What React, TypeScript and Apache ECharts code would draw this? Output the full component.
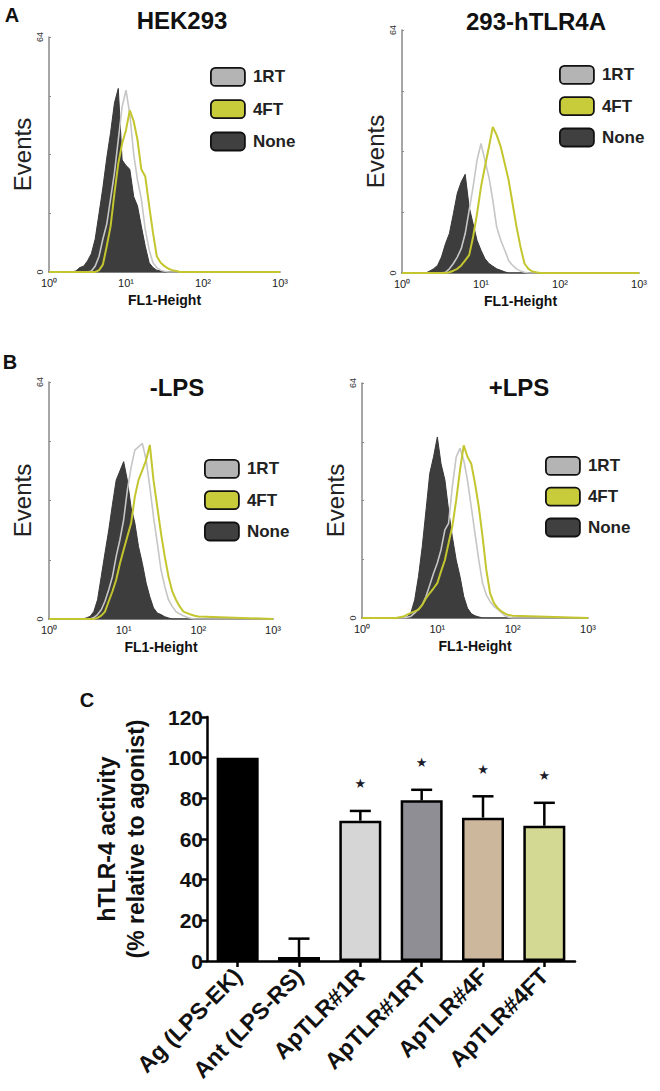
import React, { useEffect, useRef } from "react";
import * as echarts from "echarts";

// FL1-Height bin positions (log spaced)
const FL1 = [1, 1.58, 1.78, 2.0, 2.24, 2.51, 2.82, 3.16, 3.55, 3.98, 4.47, 5.01, 5.62, 6.31, 7.08, 7.94, 8.91, 10, 11.2, 12.6, 14.1, 15.8, 17.8, 20.0, 22.4, 25.1, 28.2, 31.6, 35.5, 39.8, 44.7, 50.1, 56.2, 63.1, 70.8, 79.4, 89.1, 100, 1000];

// Panel A, HEK293
const hekNone = [0, 0, 0, 0, 0.3, 1.2, 1.6, 3, 5, 9, 16, 23, 31, 38, 46, 50, 30.5, 29, 28, 20.5, 18, 12.5, 7, 2.5, 1.2, 0.5, 0.3, 0, 0, 0, 0, 0, 0, 0, 0, 0, 0, 0, 0];
const hek1RT = [0, 0, 0, 0, 0, 0, 0, 0, 0.3, 1.6, 4.3, 9, 13, 20, 27, 36, 45, 49.5, 43, 32, 25, 20, 11.5, 6, 2.5, 1.2, 0.5, 0.2, 0, 0, 0, 0, 0, 0, 0, 0, 0, 0, 0];
const hek4FT = [0, 0, 0, 0, 0, 0, 0, 0, 0, 0, 0.5, 2, 7, 12.5, 21.5, 29.5, 35, 38.7, 44, 41, 36, 28, 26, 18, 10.7, 4.3, 2.5, 1.6, 0.9, 0.5, 0.3, 0, 0, 0, 0, 0, 0, 0, 0];
// Panel A, 293-hTLR4A
const tlrNone = [0, 0, 0, 0, 0.5, 1.1, 2, 4.2, 7.7, 10.4, 15.6, 21, 24, 26, 17.4, 13, 8.6, 6, 3.8, 2.5, 1.8, 1.1, 0.7, 0.3, 0, 0, 0, 0, 0, 0, 0, 0, 0, 0, 0, 0, 0, 0, 0];
const tlr1RT = [0, 0, 0, 0, 0, 0, 0, 0, 0.2, 1.1, 2.5, 4.2, 6.4, 10.4, 16.5, 22.7, 29.7, 34.1, 29.7, 25.3, 19.2, 12.1, 8.6, 6, 3.3, 2, 1.1, 0.5, 0.2, 0, 0, 0, 0, 0, 0, 0, 0, 0, 0];
const tlr4FT = [0, 0, 0, 0, 0, 0, 0, 0, 0, 0.2, 0.6, 1.1, 2, 3.3, 4.7, 9.5, 15.6, 22.7, 28, 33.2, 38.5, 36.3, 33.2, 28.8, 24.4, 18.3, 12.1, 6.9, 2.5, 1.1, 0.4, 0.2, 0, 0, 0, 0, 0, 0, 0];
// Panel B, -LPS
const noLpsNone = [0, 0, 0, 0, 0, 0, 0, 0.3, 0.7, 2, 5.2, 11.5, 17.8, 24, 31, 37.5, 40, 42.5, 37.5, 30, 26, 19.6, 15, 9.7, 6, 3, 1.6, 1.2, 0.6, 0.3, 0, 0, 0, 0, 0, 0, 0, 0, 0];
const noLps1RT = [0, 0, 0, 0, 0, 0, 0, 0, 0, 0.4, 1.2, 2.5, 4.8, 7.9, 11.5, 16.9, 21.4, 26.8, 34.8, 41, 45.6, 46.5, 47.4, 43, 35.7, 27.6, 20.5, 13.3, 8.8, 5.2, 3.4, 2, 1.4, 0.9, 0.5, 0.2, 0, 0, 0];
const noLps4FT = [0, 0, 0, 0, 0, 0, 0, 0, 0, 0, 0.3, 0.9, 2, 4.8, 7.5, 10.6, 15, 18.7, 22.3, 25.9, 33, 37.5, 40.2, 42.9, 47, 37.5, 30.3, 23.2, 16.9, 11.5, 7.5, 5.2, 3.4, 2, 1.6, 1.2, 0.9, 0.7, 0];
// Panel B, +LPS
const lpsNone = [0, 0, 0, 0, 0, 0, 0, 0, 0, 0.3, 1.5, 5, 11.3, 19.5, 29.4, 39.4, 43.9, 49.3, 42, 37.6, 29.4, 22.2, 15.8, 11.3, 5.9, 2.7, 1.2, 0.6, 0.3, 0, 0, 0, 0, 0, 0, 0, 0, 0, 0];
const lps1RT = [0, 0, 0, 0, 0, 0, 0, 0, 0, 0.2, 0.5, 1.4, 2.4, 3.6, 5.9, 9, 12.2, 15, 18.6, 24, 25.8, 35.7, 43.9, 46.2, 43, 37.6, 30.3, 23, 15.8, 9.5, 6.3, 4.5, 3.2, 2.4, 1.5, 0.6, 0.2, 0, 0];
const lps4FT = [0, 0, 0, 0, 0, 0, 0, 0.2, 0.4, 0.9, 1.4, 1.8, 2.3, 3.6, 5.4, 6.8, 8.1, 9.5, 12.7, 15.8, 20.4, 24.9, 32.1, 40.3, 47, 43.9, 42, 36.7, 30.3, 22.2, 13.1, 6.8, 4.1, 2.7, 1.8, 1.2, 0.8, 0.6, 0];

const decadeLabels = ["10⁰", "10¹", "10²", "10³"];
const eventsTicks = [0, 64];
const legendNames = ["1RT", "4FT", "None"];

// Panel C
const categories = ["Ag (LPS-EK)", "Ant (LPS-RS)", "ApTLR#1R", "ApTLR#1RT", "ApTLR#4F", "ApTLR#4FT"];
const activity = [100, 2, 69, 79, 70.5, 66.5];
const sem = [0, 9, 4.8, 5.2, 10.5, 11.3];
const significant = [0, 0, 1, 1, 1, 1];
const barColors = ["#000000", "#4a4a4a", "#d6d6d6", "#8e8e94", "#ccb69c", "#d3d893"];

const FONT = "'Liberation Sans', Arial, Helvetica, sans-serif";

const panels = [
  { grid: { left: 49, top: 37, width: 231, height: 235 }, none: hekNone, rt: hek1RT, ft: hek4FT, legend: { left: 210, top: 67, itemGap: 12.5 } },
  { grid: { left: 402, top: 30, width: 237, height: 243 }, none: tlrNone, rt: tlr1RT, ft: tlr4FT, legend: { left: 559, top: 65, itemGap: 11.5 } },
  { grid: { left: 49, top: 382, width: 224, height: 237 }, none: noLpsNone, rt: noLps1RT, ft: noLps4FT, legend: { left: 204, top: 459, itemGap: 11.5 } },
  { grid: { left: 362, top: 383, width: 226, height: 235 }, none: lpsNone, rt: lps1RT, ft: lps4FT, legend: { left: 545, top: 456, itemGap: 11 } },
];

const legendStyles: Record<string, any> = {
  "1RT": { color: "#b4b4b4" },
  "4FT": { color: "#c9cc3a" },
  None: { color: "#404040" },
};

function pairs(ys: number[]) {
  return FL1.map((x, i) => [x, ys[i]]);
}

export default function App() {
  const ref = useRef<HTMLDivElement>(null);
  useEffect(() => {
    document.body.style.margin = "0";
    if (!ref.current) return;
    const chart = echarts.init(ref.current, undefined, { renderer: "svg" });

    const grids: any[] = [];
    const xAxes: any[] = [];
    const yAxes: any[] = [];
    const series: any[] = [];
    const legends: any[] = [];

    panels.forEach((p, i) => {
      grids.push({ ...p.grid, containLabel: false });
      xAxes.push({
        type: "log",
        logBase: 10,
        min: 1,
        max: 1000,
        gridIndex: i,
        axisLine: { show: true, lineStyle: { color: "#555", width: 1.5 } },
        axisTick: { show: false },
        splitLine: { show: false },
        axisLabel: {
          fontSize: 11,
          color: "#222",
          margin: 5,
          fontFamily: FONT,
          formatter: (v: number) => decadeLabels[Math.round(Math.log10(v))],
        },
        name: "FL1-Height",
        nameLocation: "middle",
        nameGap: 21,
        nameTextStyle: { fontSize: 14, fontWeight: "bold", color: "#111", fontFamily: FONT },
      });
      yAxes.push({
        type: "value",
        min: 0,
        max: 64,
        interval: 16,
        gridIndex: i,
        axisLine: { show: true, lineStyle: { color: "#888", width: 1.5 } },
        axisTick: { show: true, inside: true, length: 2, lineStyle: { color: "#888" } },
        splitLine: { show: false },
        axisLabel: {
          rotate: 90,
          fontSize: 9,
          color: "#333",
          margin: 5,
          fontFamily: FONT,
          formatter: (v: number) => (eventsTicks.includes(v) ? String(v) : ""),
        },
        name: "Events",
        nameLocation: "middle",
        nameRotate: 90,
        nameGap: 8,
        nameTextStyle: { fontSize: 24, color: "#222", fontFamily: FONT },
      });
      series.push({
        name: "None",
        type: "line",
        xAxisIndex: i,
        yAxisIndex: i,
        data: pairs(p.none),
        symbol: "none",
        lineStyle: { color: "#383838", width: 1 },
        itemStyle: { color: "#404040" },
        areaStyle: { color: "#3d3d3d", opacity: 1 },
        z: 2,
      });
      series.push({
        name: "1RT",
        type: "line",
        xAxisIndex: i,
        yAxisIndex: i,
        data: pairs(p.rt),
        symbol: "none",
        lineStyle: { color: "#c6c6c6", width: 1.6 },
        itemStyle: { color: "#b4b4b4" },
        z: 3,
      });
      series.push({
        name: "4FT",
        type: "line",
        xAxisIndex: i,
        yAxisIndex: i,
        data: pairs(p.ft),
        symbol: "none",
        lineStyle: { color: "#c3c62e", width: 2 },
        itemStyle: { color: "#c9cc3a" },
        z: 4,
      });
      legends.push({
        orient: "vertical",
        left: p.legend.left,
        top: p.legend.top,
        itemGap: p.legend.itemGap,
        itemWidth: 34,
        itemHeight: 18,
        padding: 0,
        selectedMode: false,
        textStyle: { fontSize: 17, fontWeight: "bold", color: "#222", fontFamily: FONT, padding: [0, 0, 0, 3] },
        data: legendNames.map((n) => ({
          name: n,
          icon: "roundRect",
          itemStyle: { color: legendStyles[n].color, borderColor: "#111", borderWidth: 1.8 },
        })),
      });
    });

    // Panel C
    grids.push({ left: 207, top: 717, width: 368, height: 244, containLabel: false });
    xAxes.push({
      type: "category",
      gridIndex: 4,
      data: categories,
      axisLine: { show: true, lineStyle: { color: "#000", width: 2.5 } },
      axisTick: { show: true, alignWithLabel: true, length: 6, lineStyle: { color: "#000", width: 2.5 } },
      axisLabel: { rotate: 45, fontSize: 23, fontWeight: "bold", color: "#111", margin: 11, fontFamily: FONT, interval: 0 },
    });
    yAxes.push({
      type: "value",
      gridIndex: 4,
      min: 0,
      max: 120,
      interval: 20,
      axisLine: { show: true, lineStyle: { color: "#000", width: 2.5 } },
      axisTick: { show: true, length: 6, lineStyle: { color: "#000", width: 2.5 } },
      splitLine: { show: false },
      axisLabel: { fontSize: 21, fontWeight: "bold", color: "#111", margin: 4, fontFamily: FONT },
      name: "hTLR-4 activity\n(% relative to agonist)",
      nameLocation: "middle",
      nameRotate: 90,
      nameGap: 57,
      nameTextStyle: { fontSize: 23, fontWeight: "bold", color: "#111", fontFamily: FONT, lineHeight: 29 },
    });
    series.push({
      type: "bar",
      xAxisIndex: 4,
      yAxisIndex: 4,
      barWidth: 42,
      data: activity.map((v, i) => ({
        value: v,
        itemStyle: { color: barColors[i], borderColor: "#000", borderWidth: 2.5 },
      })),
      z: 2,
    });
    series.push({
      type: "custom",
      xAxisIndex: 4,
      yAxisIndex: 4,
      z: 5,
      data: activity.map((v, i) => [i, v, sem[i], significant[i]]),
      renderItem: (params: any, api: any) => {
        const i = api.value(0);
        const mean = api.value(1);
        const err = api.value(2);
        const sig = api.value(3);
        const top = api.coord([i, mean + err]);
        const base = api.coord([i, mean]);
        const children: any[] = [];
        const st = { stroke: "#000", lineWidth: 2.5 };
        if (err > 0) {
          children.push({ type: "line", shape: { x1: top[0], y1: base[1], x2: top[0], y2: top[1] }, style: st });
          children.push({ type: "line", shape: { x1: top[0] - 10.5, y1: top[1], x2: top[0] + 10.5, y2: top[1] }, style: st });
        }
        if (sig) {
          children.push({
            type: "text",
            x: top[0],
            y: top[1] - 27,
            style: { text: "★", fontSize: 13, fill: "#1c1c2a", align: "center", verticalAlign: "middle", fontFamily: "DejaVu Sans" },
          });
        }
        return { type: "group", children };
      },
    });

    const txt = (text: string, x: number, y: number, size: number) => ({
      type: "text",
      x,
      y,
      style: { text, fontSize: size, fontWeight: "bold", fill: "#111", fontFamily: FONT, align: "center", verticalAlign: "middle" },
    });

    chart.setOption({
      animation: false,
      backgroundColor: "#ffffff",
      grid: grids,
      xAxis: xAxes,
      yAxis: yAxes,
      legend: legends,
      series,
      graphic: [
        txt("A", 12, 15, 20),
        txt("HEK293", 182, 20, 24),
        txt("293-hTLR4A", 536, 21, 24),
        txt("B", 10, 362, 20),
        txt("-LPS", 177, 387, 24),
        txt("+LPS", 519, 387, 24),
        txt("C", 87, 700, 20),
      ],
    });
    return () => chart.dispose();
  }, []);
  return <div ref={ref} style={{ width: 660, height: 1091 }} />;
}
